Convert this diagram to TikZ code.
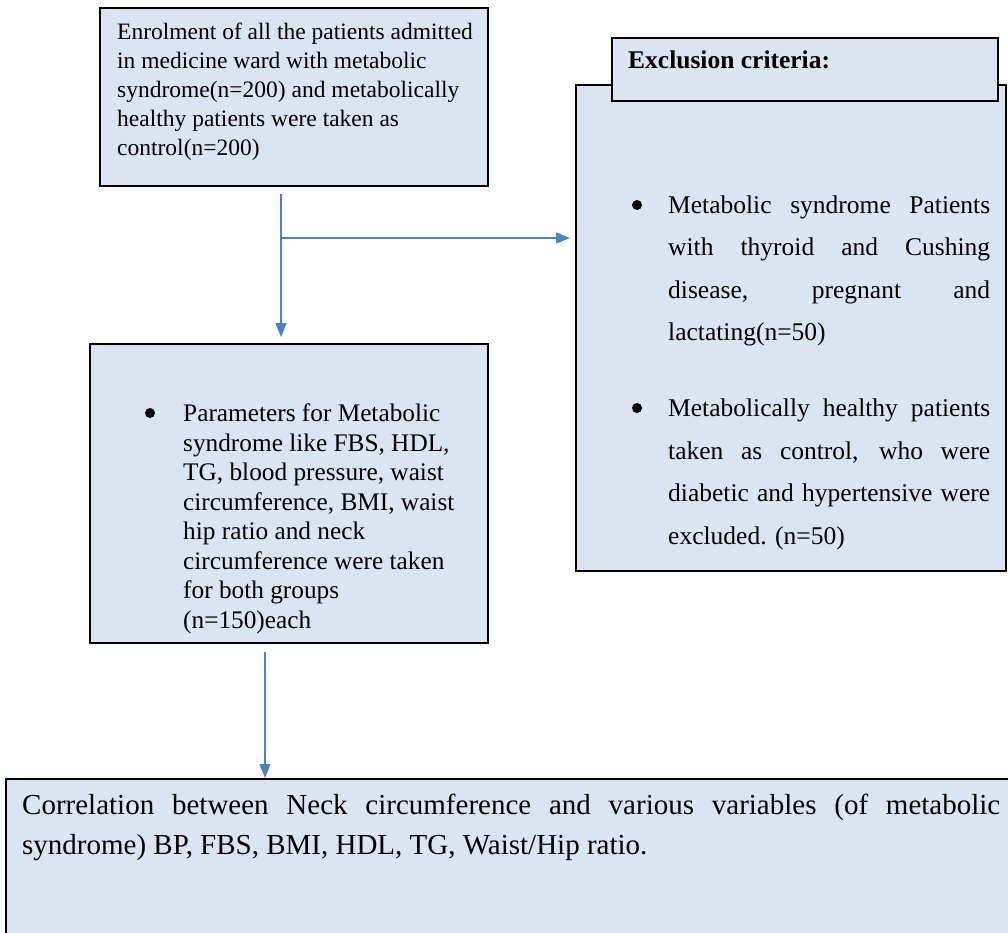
\documentclass[tikz,border=0pt]{standalone}
\usepackage{fontspec}
\setmainfont{Liberation Serif}
\usepackage{xcolor}
\usepackage{tikz}
\usetikzlibrary{positioning,arrows.meta}
\definecolor{boxblue}{HTML}{DBE5F1}
\definecolor{arrowblue}{HTML}{4F81BD}
\hyphenpenalty=10000

\begin{document}
\begin{tikzpicture}[x=1pt,y=-1pt,>={Triangle[length=14pt,width=11pt]},
	box/.style={draw=black,line width=2.4pt,fill=boxblue,inner sep=0pt,anchor=north west},
	txt/.style={inner sep=0pt,anchor=north west},
	dot/.style={circle,fill=black,inner sep=0pt,minimum size=10pt},
	link/.style={->,draw=arrowblue,line width=1.4pt}]
	\clip (0,0) rectangle (1008,932);

	\node[box,minimum width=388pt,minimum height=178pt] (enrol) at (99,7) {};
	\node[box,minimum width=430pt,minimum height=486pt] (excl) at (575,84) {};
	\node[box,minimum width=386pt,minimum height=63pt] (head) at (611,37) {};
	\node[box,minimum width=398pt,minimum height=299pt] (params) at (89,343) {};
	\node[box,minimum width=1030pt,minimum height=200pt] (corr) at (5,778) {};

	\node[txt,font=\fontsize{23.5}{29}\selectfont,align=left] (enroltxt) [below right=16pt and 18pt of enrol.north west]
		{Enrolment of all the patients admitted\\in medicine ward with metabolic\\syndrome(n=200) and metabolically\\healthy patients were taken as\\control(n=200)};
	\node[txt,font=\fontsize{25.5}{30}\selectfont\bfseries] (headtxt) [below right=13.6pt and 17pt of head.north west] {Exclusion criteria:};
	\node[txt,font=\fontsize{25.5}{42.5}\selectfont,text width=322pt,align=justify] (crit1) [below right=111.6pt and 93pt of excl.north west]
		{Metabolic syndrome Patients\linebreak with thyroid and Cushing\linebreak disease, pregnant and\linebreak lactating(n=50)};
	\node[txt,font=\fontsize{25.5}{42.5}\selectfont,text width=322pt,align=justify] (crit2) [below right=314.6pt and 93pt of excl.north west]
		{Metabolically healthy patients\linebreak taken as control, who were\linebreak diabetic and hypertensive were\linebreak excluded. (n=50)};
	\node[txt,font=\fontsize{25.3}{29.5}\selectfont,align=left] (paramtxt) [below right=60.6pt and 94pt of params.north west]
		{Parameters for Metabolic\\syndrome like FBS, HDL,\\TG, blood pressure, waist\\circumference, BMI, waist\\hip ratio and neck\\circumference were taken\\for both groups\\(n=150)each};
	\node[txt,font=\fontsize{29}{40}\selectfont,text width=978pt,align=justify] (corrtxt) [below right=16.3pt and 17pt of corr.north west]
		{Correlation between Neck circumference and various variables (of metabolic\linebreak syndrome) BP, FBS, BMI, HDL, TG, Waist/Hip ratio.};

	\node[dot] (dot1) at (637,205) {};
	\node[dot] (dot2) at (637,408) {};
	\node[dot] (dot3) at (150,413) {};

	\coordinate (split) at (281,238);
	\coordinate (drop) at (265,700);
	\draw[link,shorten <=7pt,shorten >=6pt] (enrol.south -| split) -- (params.north -| split);
	\draw[link,shorten >=5pt] (split) -- (excl.west |- split);
	\draw[link,shorten <=8pt] (params.south -| drop) -- (corr.north -| drop);
\end{tikzpicture}
\end{document}
